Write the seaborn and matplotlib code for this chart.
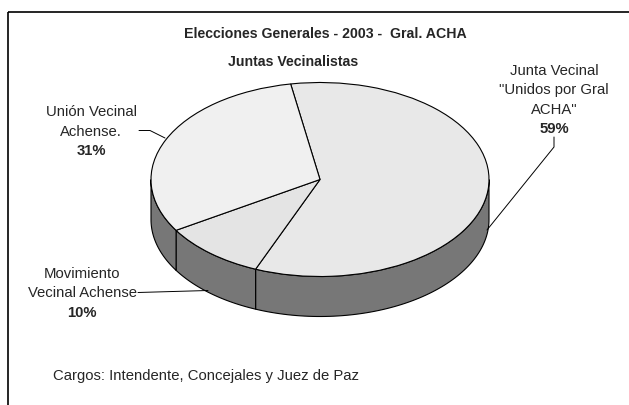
import numpy as np
import seaborn as sns
import matplotlib.pyplot as plt
from matplotlib.patches import Wedge, Polygon, Rectangle
from matplotlib.transforms import Affine2D

# Data
parties = ['Junta Vecinal\n"Unidos por Gral\nACHA"', 'Movimiento\nVecinal Achense', 'Unión Vecinal\nAchense.']
shares = [59, 10, 31]
top_colors = ['#e8e8e8', '#e4e4e4', '#f0f0f0']
side_color = '#777777'

title = 'Elecciones Generales - 2003 -  Gral. ACHA'
subtitle = 'Juntas Vecinalistas'
caption = 'Cargos: Intendente, Concejales y Juez de Paz'

sns.set_theme(style="white")
plt.rcParams['font.family'] = ['Liberation Sans', 'DejaVu Sans']

W, H = 629, 405
fig = plt.figure(figsize=(W / 100, H / 100), dpi=100)
ax = fig.add_axes([0, 0, 1, 1])
ax.set_xlim(0, W)
ax.set_ylim(H, 0)
ax.axis('off')

# pie geometry (pixel space)
cx, cy, rx, ry, depth = 320, 179.5, 169, 97, 40
start = 100.0
ell = Affine2D().scale(rx, -ry).translate(cx, cy) + ax.transData

fracs = np.array(shares, dtype=float) / sum(shares)
ends = start - np.cumsum(fracs) * 360
begins = np.concatenate([[start], ends[:-1]])

# side walls (only the front half is visible)
for a_hi, a_lo in zip(begins, ends):
    for k in (-360, 0, 360):
        lo, hi = max(a_lo, 180 + k), min(a_hi, 360 + k)
        if hi <= lo:
            continue
        t = np.radians(np.linspace(lo, hi, 80))
        xs = cx + rx * np.cos(t)
        ys = cy - ry * np.sin(t)
        pts = np.column_stack([np.concatenate([xs, xs[::-1]]),
                               np.concatenate([ys, ys[::-1] + depth])])
        ax.add_patch(Polygon(pts, closed=True, facecolor=side_color,
                             edgecolor='black', lw=0.8, zorder=2))

# top faces
for a_hi, a_lo, col in zip(begins, ends, top_colors):
    ax.add_patch(Wedge((0, 0), 1, a_lo, a_hi, facecolor=col, edgecolor='black',
                       lw=0.8, transform=ell, zorder=3))

# titles
ax.text(325, 38, title, ha='center', va='baseline', fontsize=10.2, fontweight='bold')
ax.text(293, 66.5, subtitle, ha='center', va='baseline', fontsize=10.2, fontweight='bold')

# labels: (x center, first baseline)
label_pos = [(554, 75), (82, 278), (91, 116.5)]
step = 19.3
for name, val, (lx, ly) in zip(parties, shares, label_pos):
    lines = name.split('\n')
    for i, line in enumerate(lines):
        ax.text(lx, ly + i * step, line, ha='center', va='baseline', fontsize=10.7)
    ax.text(lx, ly + len(lines) * step, f'{val}%', ha='center', va='baseline',
            fontsize=10.7, fontweight='bold')

# leader lines
leaders = [([554, 554, 487], [137, 147, 230]),
           ([138, 208], [292.5, 290.5]),
           ([139, 150, 165], [130.5, 130.5, 138])]
for lx, ly in leaders:
    ax.plot(lx, ly, color='black', lw=0.7, zorder=4)

ax.text(53, 380, caption, ha='left', va='baseline', fontsize=10.7)

# frame (right and bottom edges fall outside the picture)
ax.add_patch(Rectangle((7.5, 11.5), 700, 500, fill=False, edgecolor='black',
                       lw=1.2, clip_on=False))

fig.savefig('out.png', dpi=100)
